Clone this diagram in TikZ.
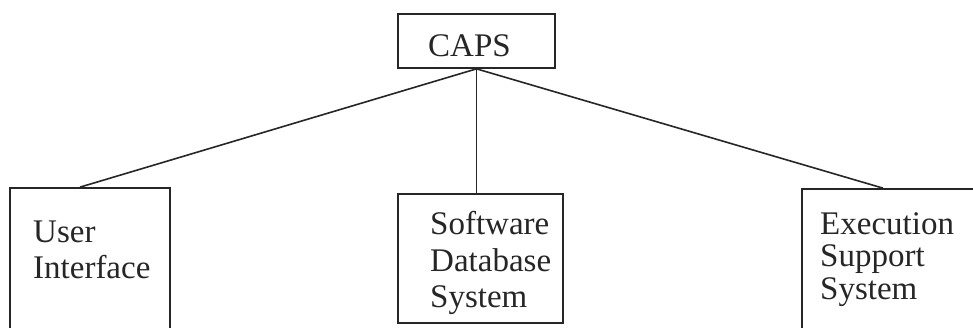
\documentclass[tikz,border=0pt]{standalone}
\usepackage{fontspec}
\setmainfont{Liberation Serif}
\tikzset{
  boxshape/.style={draw=black!85, line width=1.7pt, rectangle, inner sep=0pt},
  lbl/.style={anchor=base west, inner sep=0pt, text=black!85, font=\fontsize{33}{36}\selectfont},
  link/.style={draw=black!85, line width=1.6pt}
}
\begin{document}
\begin{tikzpicture}[x=1pt, y=-1pt]
\useasboundingbox (0,0) rectangle (973,328);
\clip (0,0) rectangle (973,328);
% boxes
\node[boxshape, minimum width=157pt, minimum height=54pt] (caps) at (476.5,41) {};
\node[boxshape, minimum width=160pt, minimum height=152pt] (ui) at (90,264) {};
\node[boxshape, minimum width=165pt, minimum height=129pt] (sdb) at (480.5,258.5) {};
\node[boxshape, minimum width=188pt, minimum height=151pt] (ess) at (896,264.5) {};
% texts
\node[lbl] (tcaps) at (428,57) {CAPS};
\node[lbl] (tui1) at (33,243) {User};
\node[lbl] (tui2) at (33,278) {Interface};
\node[lbl] (tsdb1) at (430,235) {Software};
\node[lbl] (tsdb2) at (430,272) {Database};
\node[lbl] (tsdb3) at (430,307) {System};
\node[lbl] (tess1) at (820,235) {Execution};
\node[lbl] (tess2) at (820,267) {Support};
\node[lbl] (tess3) at (820,299) {System};
% connectors
\draw[link] (caps.south) -- ([xshift=-10pt]ui.north);
\draw[link] (caps.south) -- (caps.south |- sdb.north);
\draw[link] (caps.south) -- ([xshift=-13pt]ess.north);
\end{tikzpicture}
\end{document}
